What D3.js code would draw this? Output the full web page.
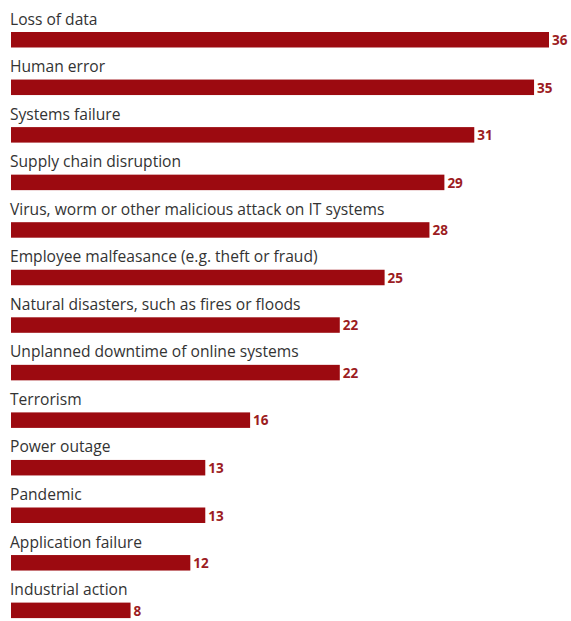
<!DOCTYPE html>
<html>
<head>
<meta charset="utf-8">
<script src="https://cdn.jsdelivr.net/npm/d3@7"></script>
<style>
  body { margin: 0; background: #fff; }
  svg { display: block; }
</style>
</head>
<body>
<div id="chart"></div>
<script>
const categories = [
  'Loss of data',
  'Human error',
  'Systems failure',
  'Supply chain disruption',
  'Virus, worm or other malicious attack on IT systems',
  'Employee malfeasance (e.g. theft or fraud)',
  'Natural disasters, such as fires or floods',
  'Unplanned downtime of online systems',
  'Terrorism',
  'Power outage',
  'Pandemic',
  'Application failure',
  'Industrial action'
]
const values = [36, 35, 31, 29, 28, 25, 22, 22, 16, 13, 13, 12, 8]

const width = 571
const height = 621
const margin = { top: 32, left: 11 }
const rowStep = 47.55
const barHeight = 15.5

const svg = d3.select('#chart')
  .append('svg')
  .attr('width', width)
  .attr('height', height)

const x = d3.scaleLinear()
  .domain([0, 36])
  .range([margin.left, 549])

const y = d3.scaleBand()
  .domain(categories)
  .range([margin.top, margin.top + rowStep * categories.length])
  .paddingInner(0)

const rows = svg.append('g')
  .selectAll('g')
  .data(categories.map((c, i) => ({ name: c, value: values[i] })))
  .join('g')
  .attr('transform', d => `translate(0,${y(d.name)})`)

rows.append('rect')
  .attr('x', x(0))
  .attr('y', 0)
  .attr('width', d => x(d.value) - x(0))
  .attr('height', barHeight)
  .attr('fill', '#9c0a10')

rows.append('text')
  .attr('x', 10)
  .attr('y', -7.5)
  .attr('font-family', 'Open Sans, sans-serif')
  .attr('font-size', 15.6)
  .attr('fill', '#333')
  .text(d => d.name)

rows.append('text')
  .attr('x', d => x(d.value) + 3)
  .attr('y', barHeight - 2.5)
  .attr('font-family', 'Open Sans, sans-serif')
  .attr('font-weight', 'bold')
  .attr('font-size', 13.5)
  .attr('fill', '#9c1c22')
  .text(d => d.value)
</script>
</body>
</html>
